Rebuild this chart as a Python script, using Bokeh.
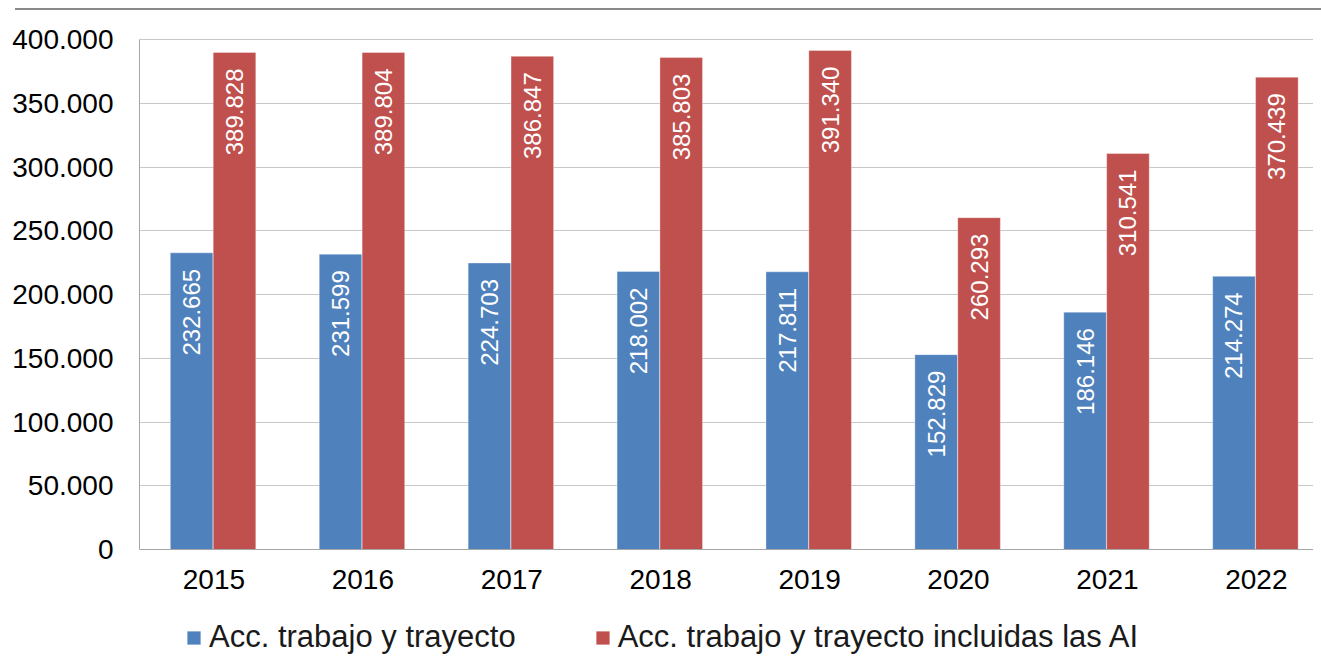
from math import pi
from bokeh.plotting import figure
from bokeh.models import Range1d, FixedTicker, Legend, LegendItem, ColumnDataSource, Div
from bokeh.layouts import column
from bokeh.core.properties import value
from bokeh.embed import file_html
from bokeh.resources import INLINE

years = ["2015", "2016", "2017", "2018", "2019", "2020", "2021", "2022"]
acc_trabajo = [232665, 231599, 224703, 218002, 217811, 152829, 186146, 214274]
acc_incl_ai = [389828, 389804, 386847, 385803, 391340, 260293, 310541, 370439]
series_names = ["Acc. trabajo y trayecto", "Acc. trabajo y trayecto incluidas las AI"]
y_ticks = [0, 50000, 100000, 150000, 200000, 250000, 300000, 350000, 400000]
y_tick_labels = ["0", "50.000", "100.000", "150.000", "200.000", "250.000", "300.000", "350.000", "400.000"]

BLUE = "#4F81BD"
RED = "#C0504D"
FONT = "Liberation Sans"

# layout constants (pixels)
FIG_H = 646
BORDER_TOP = 27
PX_PER_UNIT = 510 / 400000          # 400.000 spans 510 px
ZERO_FROM_BOTTOM = 107              # px between the zero line and the figure bottom


def fmt(v):
    return f"{v:,}".replace(",", ".")


idx = list(range(len(years)))
src = ColumnDataSource(dict(
    xb=[i + 0.35 for i in idx],
    xr=[i + 0.638 for i in idx],
    b=acc_trabajo,
    r=acc_incl_ai,
    bl=[fmt(v) for v in acc_trabajo],
    rl=[fmt(v) for v in acc_incl_ai],
))

frame_h = FIG_H - BORDER_TOP
y_start = -ZERO_FROM_BOTTOM / PX_PER_UNIT
y_end = y_start + frame_h / PX_PER_UNIT

p = figure(width=1305, height=FIG_H, output_backend="svg", toolbar_location=None,
           x_range=Range1d(0, 7.884), y_range=Range1d(y_start, y_end),
           min_border_left=131, min_border_right=0, min_border_top=BORDER_TOP,
           min_border_bottom=0, margin=(0, 0, 0, 8))
p.outline_line_color = None
p.background_fill_color = "white"
p.border_fill_color = "white"

rb = p.vbar(x="xb", top="b", width=0.286, source=src, fill_color=BLUE,
            line_color="white", line_alpha=0.35, line_width=1)
rr = p.vbar(x="xr", top="r", width=0.286, source=src, fill_color=RED,
            line_color="white", line_alpha=0.35, line_width=1)

for xc, yc, tc in (("xb", "b", "bl"), ("xr", "r", "rl")):
    p.text(x=xc, y=yc, text=tc, source=src, angle=pi / 2, text_align="right",
           text_baseline="middle", y_offset=16, text_color="white",
           text_font_size="24px", text_font=value(FONT))

p.xgrid.grid_line_color = None
p.ygrid.grid_line_color = "#c8c8c8"
p.ygrid.grid_line_width = 1

p.yaxis.ticker = FixedTicker(ticks=y_ticks)
p.yaxis.major_label_overrides = {t: l for t, l in zip(y_ticks, y_tick_labels)}
p.yaxis.bounds = (y_ticks[0], y_ticks[-1])
p.xaxis.ticker = FixedTicker(ticks=[i + 0.5 for i in idx])
p.xaxis.major_label_overrides = {i + 0.5: years[i] for i in idx}
p.xaxis.fixed_location = 0

for ax in (p.xaxis, p.yaxis):
    ax.axis_line_color = "#a6a6a6"
    ax.axis_line_width = 1
    ax.major_tick_line_color = None
    ax.minor_tick_line_color = None
    ax.major_tick_out = 0
    ax.major_tick_in = 0
    ax.major_label_text_font = FONT
    ax.major_label_text_font_size = "28px"
    ax.major_label_text_color = "black"
p.yaxis.major_label_standoff = 26
p.xaxis.major_label_standoff = 20

legend = Legend(items=[LegendItem(label=series_names[0], renderers=[rb]),
                       LegendItem(label=series_names[1], renderers=[rr])],
                location=(46, 1), orientation="horizontal",
                label_text_font=FONT, label_text_font_size="31px", label_text_color="#1a1a1a",
                glyph_width=17, glyph_height=17, label_standoff=7, spacing=78,
                padding=0, margin=0, border_line_color=None, background_fill_alpha=0)
p.add_layout(legend)

top_rule = Div(text="", width=1306, height=2, margin=(8, 0, 0, 15),
               styles={"background-color": "#898989"})

layout = column(top_rule, p, spacing=0)
open("out.html", "w").write(file_html(layout, INLINE))
